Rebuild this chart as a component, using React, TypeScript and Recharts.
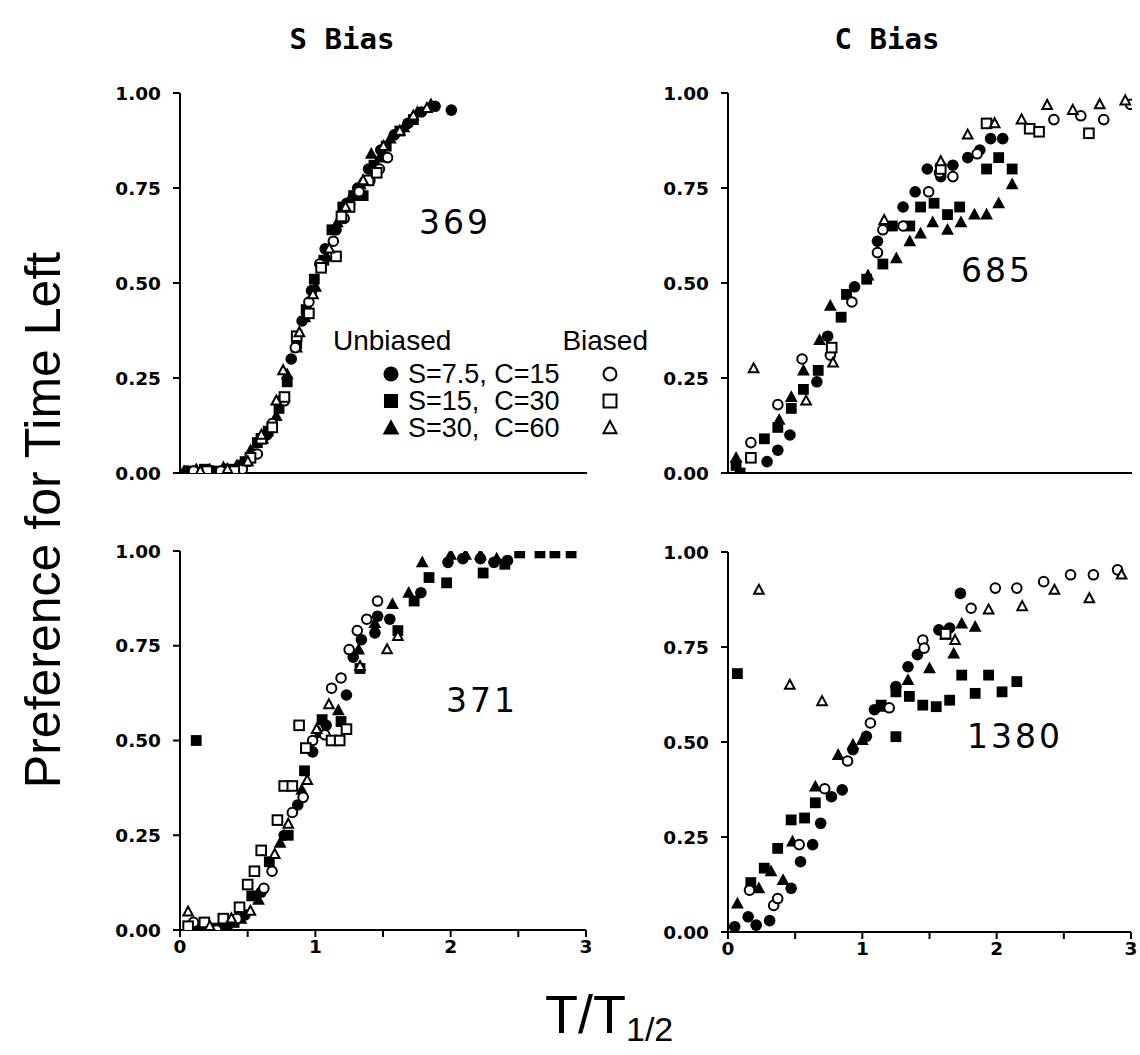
import React from 'react';
import { ScatterChart, Scatter, XAxis, YAxis } from 'recharts';

type Pt = [number, number];

// ---- Panel 369 (S Bias, top) ----
const p369_S7_unbiased: Pt[] = [[0.05,0.005],[0.14,0.0],[0.24,0.005],[0.34,0.01],[0.44,0.02],[0.54,0.05],[0.64,0.1],[0.74,0.19],[0.82,0.3],[0.9,0.4],[0.97,0.48],[1.07,0.59],[1.15,0.64],[1.23,0.71],[1.31,0.75],[1.39,0.8],[1.48,0.85],[1.58,0.89],[1.68,0.92],[1.78,0.95],[1.88,0.965],[2.0,0.955]];
const p369_S15_unbiased: Pt[] = [[0.08,0.005],[0.18,0.01],[0.28,0.005],[0.38,0.01],[0.48,0.03],[0.57,0.08],[0.65,0.11],[0.73,0.17],[0.79,0.24],[0.86,0.34],[0.93,0.43],[0.99,0.51],[1.06,0.56],[1.12,0.64],[1.2,0.7],[1.28,0.73],[1.35,0.73],[1.43,0.81],[1.52,0.86],[1.62,0.9],[1.72,0.93]];
const p369_S30_unbiased: Pt[] = [[0.03,0.005],[0.12,0.01],[0.22,0.01],[0.32,0.015],[0.42,0.02],[0.52,0.06],[0.61,0.09],[0.71,0.15],[0.79,0.26],[0.86,0.33],[0.92,0.41],[1.0,0.49],[1.08,0.57],[1.16,0.66],[1.25,0.72],[1.33,0.76],[1.41,0.84],[1.47,0.83],[1.55,0.88],[1.65,0.91],[1.75,0.95],[1.85,0.97]];
const p369_S7_biased: Pt[] = [[0.1,0.005],[0.3,0.005],[0.46,0.01],[0.57,0.05],[0.68,0.13],[0.77,0.19],[0.85,0.33],[0.95,0.45],[1.03,0.55],[1.13,0.61],[1.21,0.67],[1.32,0.74],[1.4,0.77],[1.47,0.8],[1.53,0.83]];
const p369_S15_biased: Pt[] = [[0.2,0.005],[0.4,0.005],[0.52,0.04],[0.6,0.09],[0.68,0.12],[0.77,0.2],[0.86,0.36],[0.95,0.42],[1.04,0.54],[1.15,0.57],[1.19,0.675],[1.25,0.7],[1.39,0.77],[1.45,0.79]];
const p369_S30_biased: Pt[] = [[0.15,0.005],[0.35,0.01],[0.5,0.03],[0.6,0.1],[0.71,0.19],[0.76,0.27],[0.88,0.37],[0.98,0.47],[1.1,0.59],[1.22,0.7],[1.35,0.77],[1.5,0.86],[1.62,0.9],[1.72,0.94],[1.82,0.96]];

// ---- Panel 685 (C Bias, top) ----
const p685_S7_unbiased: Pt[] = [[0.29,0.03],[0.37,0.06],[0.46,0.1],[0.66,0.24],[0.74,0.36],[0.94,0.49],[1.11,0.61],[1.3,0.7],[1.39,0.74],[1.48,0.8],[1.58,0.78],[1.67,0.81],[1.78,0.83],[1.87,0.85],[1.95,0.88],[2.04,0.88]];
const p685_S15_unbiased: Pt[] = [[0.09,0.0],[0.06,0.02],[0.27,0.09],[0.37,0.12],[0.47,0.17],[0.56,0.22],[0.67,0.27],[0.84,0.41],[0.88,0.47],[1.03,0.51],[1.15,0.55],[1.22,0.65],[1.35,0.65],[1.43,0.7],[1.53,0.71],[1.63,0.68],[1.72,0.7],[1.92,0.8],[2.01,0.83],[2.11,0.8]];
const p685_S30_unbiased: Pt[] = [[0.06,0.04],[0.38,0.14],[0.47,0.2],[0.56,0.27],[0.68,0.35],[0.76,0.44],[1.04,0.52],[1.25,0.565],[1.35,0.61],[1.43,0.63],[1.52,0.66],[1.63,0.64],[1.73,0.66],[1.83,0.68],[1.92,0.68],[2.01,0.71],[2.11,0.76]];
const p685_S7_biased: Pt[] = [[0.17,0.08],[0.37,0.18],[0.55,0.3],[0.76,0.31],[0.92,0.45],[1.11,0.58],[1.15,0.64],[1.3,0.65],[1.49,0.74],[1.57,0.79],[1.67,0.78],[1.85,0.84],[2.42,0.93],[2.62,0.94],[2.79,0.93],[2.99,0.97]];
const p685_S15_biased: Pt[] = [[0.17,0.04],[0.77,0.33],[1.58,0.8],[1.92,0.92],[2.24,0.906],[2.31,0.898],[2.68,0.894]];
const p685_S30_biased: Pt[] = [[0.19,0.275],[0.58,0.19],[0.78,0.29],[1.16,0.665],[1.58,0.82],[1.78,0.89],[1.98,0.92],[2.18,0.93],[2.37,0.968],[2.56,0.955],[2.76,0.97],[2.95,0.98]];

// ---- Panel 371 (S Bias, bottom) ----
const p371_S7_unbiased: Pt[] = [[0.08,0.005],[0.2,0.0],[0.35,0.01],[0.48,0.04],[0.6,0.1],[0.77,0.25],[0.87,0.33],[0.98,0.47],[1.08,0.54],[1.23,0.62],[1.28,0.72],[1.34,0.766],[1.44,0.784],[1.46,0.828],[1.55,0.82],[1.78,0.89],[1.98,0.97],[2.09,0.98],[2.22,0.98],[2.32,0.97],[2.42,0.975]];
const p371_S15_unbiased: Pt[] = [[0.12,0.5],[0.1,0.0],[0.25,0.005],[0.4,0.02],[0.53,0.09],[0.66,0.18],[0.8,0.25],[0.92,0.42],[1.05,0.555],[1.19,0.55],[1.33,0.69],[1.61,0.79],[1.73,0.868],[1.84,0.93],[1.97,0.916],[2.24,0.942],[2.4,0.965],[2.51,0.995],[2.66,0.995],[2.77,0.995],[2.89,0.995]];
const p371_S30_unbiased: Pt[] = [[0.15,0.01],[0.3,0.005],[0.45,0.03],[0.58,0.08],[0.74,0.23],[0.9,0.37],[1.03,0.52],[1.17,0.58],[1.32,0.74],[1.44,0.81],[1.57,0.86],[1.69,0.89],[1.79,0.97],[2.0,0.99],[2.11,0.99],[2.22,0.99],[2.34,0.98]];
const p371_S7_biased: Pt[] = [[0.1,0.02],[0.27,0.0],[0.42,0.03],[0.62,0.11],[0.68,0.155],[0.83,0.31],[0.91,0.35],[0.98,0.5],[1.07,0.515],[1.12,0.638],[1.19,0.665],[1.25,0.74],[1.31,0.79],[1.38,0.82],[1.46,0.868]];
const p371_S15_biased: Pt[] = [[0.06,0.01],[0.18,0.02],[0.32,0.03],[0.44,0.06],[0.5,0.12],[0.55,0.155],[0.6,0.21],[0.72,0.29],[0.77,0.38],[0.83,0.38],[0.88,0.54],[0.93,0.48],[1.12,0.5],[1.18,0.5],[1.23,0.53]];
const p371_S30_biased: Pt[] = [[0.06,0.048],[0.22,0.01],[0.38,0.03],[0.52,0.05],[0.7,0.2],[0.8,0.28],[0.94,0.395],[1.01,0.53],[1.1,0.595],[1.33,0.696],[1.53,0.74],[1.61,0.775]];

// ---- Panel 1380 (C Bias, bottom) ----
const p1380_S7_unbiased: Pt[] = [[0.05,0.014],[0.15,0.04],[0.21,0.018],[0.31,0.03],[0.47,0.115],[0.54,0.185],[0.63,0.23],[0.69,0.286],[0.77,0.356],[0.85,0.374],[0.93,0.48],[1.03,0.515],[1.09,0.585],[1.25,0.646],[1.34,0.698],[1.41,0.73],[1.57,0.795],[1.65,0.8],[1.73,0.891]];
const p1380_S15_unbiased: Pt[] = [[0.07,0.68],[0.17,0.13],[0.27,0.168],[0.37,0.22],[0.47,0.295],[0.57,0.3],[0.65,0.34],[1.14,0.597],[1.25,0.632],[1.25,0.514],[1.35,0.62],[1.45,0.597],[1.55,0.593],[1.65,0.61],[1.74,0.676],[1.84,0.628],[1.94,0.676],[2.04,0.632],[2.15,0.659]];
const p1380_S30_unbiased: Pt[] = [[0.07,0.075],[0.23,0.115],[0.32,0.16],[0.41,0.137],[0.48,0.238],[0.65,0.383],[0.82,0.466],[0.93,0.493],[1.0,0.505],[1.16,0.593],[1.34,0.663],[1.5,0.694],[1.62,0.782],[1.68,0.733],[1.74,0.812],[1.84,0.803]];
const p1380_S7_biased: Pt[] = [[0.16,0.11],[0.34,0.07],[0.37,0.088],[0.53,0.23],[0.72,0.377],[0.89,0.45],[1.06,0.55],[1.2,0.59],[1.45,0.768],[1.46,0.747],[1.81,0.852],[1.99,0.905],[2.15,0.905],[2.35,0.922],[2.55,0.94],[2.72,0.94],[2.9,0.953]];
const p1380_S15_biased: Pt[] = [[1.62,0.785]];
const p1380_S30_biased: Pt[] = [[0.23,0.9],[0.46,0.65],[0.7,0.607],[1.69,0.768],[1.94,0.848],[2.19,0.857],[2.43,0.9],[2.69,0.878],[2.93,0.94]];

const xTicks = [0, 0.5, 1, 1.5, 2, 2.5, 3];
const yTicks = [0, 0.25, 0.5, 0.75, 1];
const columnTitles = ['S Bias', 'C Bias'];
const legendRows = ['S=7.5, C=15', 'S=15,  C=30', 'S=30,  C=60'];

type Kind = 'circle' | 'square' | 'triangle';

const drawMarker = (kind: Kind, filled: boolean, cx: number, cy: number, scale = 1) => {
  const fill = filled ? '#000' : '#fff';
  const sw = filled ? 0 : 2;
  if (kind === 'circle') {
    const r = (filled ? 5.8 : 4.8) * scale;
    return <circle cx={cx} cy={cy} r={r} fill={fill} stroke="#000" strokeWidth={sw} />;
  }
  if (kind === 'square') {
    const h = (filled ? 5.4 : 4.8) * scale;
    return <rect x={cx - h} y={cy - h} width={2 * h} height={2 * h} fill={fill} stroke="#000" strokeWidth={sw} />;
  }
  const w = (filled ? 6.4 : 4.8) * scale;
  const up = (filled ? 6.8 : 5.2) * scale;
  const dn = (filled ? 5 : 3.8) * scale;
  return (
    <polygon
      points={`${cx},${cy - up} ${cx + w},${cy + dn} ${cx - w},${cy + dn}`}
      fill={fill}
      stroke="#000"
      strokeWidth={sw}
      strokeLinejoin="miter"
    />
  );
};

const makeShape = (kind: Kind, filled: boolean) => (props: any) => {
  const { cx, cy } = props;
  if (cx == null || cy == null) return <g />;
  return drawMarker(kind, filled, cx, cy);
};

const toObj = (arr: Pt[]) => arr.map(([x, y]) => ({ x, y }));

interface SeriesDef { data: Pt[]; kind: Kind; filled: boolean; }

const YW = 70;
const MT = 10;
const MR = 15;
const XH = 40;

const tickStyle = { fill: '#000', fontSize: 18.5, fontWeight: 700, fontFamily: '"DejaVu Sans", sans-serif' };

const Panel = ({ left, top, w, h, series, showX }: { left: number; top: number; w: number; h: number; series: SeriesDef[]; showX: boolean }) => {
  const open = series.filter((s) => !s.filled);
  const fill = series.filter((s) => s.filled);
  const ordered = [...fill, ...open];
  return (
    <div style={{ position: 'absolute', left: left - YW, top: top - MT }}>
      <ScatterChart width={w + YW + MR} height={h + MT + XH} margin={{ top: MT, right: MR, left: 0, bottom: 0 }}>
        <XAxis
          type="number"
          dataKey="x"
          domain={[0, 3]}
          ticks={xTicks}
          interval={0}
          allowDataOverflow
          height={XH}
          axisLine={{ stroke: '#000', strokeWidth: 2 }}
          tickLine={{ stroke: '#000', strokeWidth: 2 }}
          tickSize={7}
          tickMargin={3}
          tick={showX ? tickStyle : false}
          tickFormatter={(v: number) => (Number.isInteger(v) ? String(v) : '')}
        />
        <YAxis
          type="number"
          dataKey="y"
          domain={[0, 1]}
          ticks={yTicks}
          interval={0}
          allowDataOverflow
          width={YW}
          axisLine={{ stroke: '#000', strokeWidth: 2 }}
          tickLine={{ stroke: '#000', strokeWidth: 2 }}
          tickSize={7}
          tickMargin={12}
          tick={tickStyle}
          tickFormatter={(v: number) => v.toFixed(2)}
        />
        {ordered.map((s, i) => (
          <Scatter key={i} data={toObj(s.data)} shape={makeShape(s.kind, s.filled)} isAnimationActive={false} />
        ))}
      </ScatterChart>
    </div>
  );
};

const setOf = (a: Pt[], b: Pt[], c: Pt[], d: Pt[], e: Pt[], f: Pt[]): SeriesDef[] => [
  { data: a, kind: 'circle', filled: true },
  { data: b, kind: 'square', filled: true },
  { data: c, kind: 'triangle', filled: true },
  { data: d, kind: 'circle', filled: false },
  { data: e, kind: 'square', filled: false },
  { data: f, kind: 'triangle', filled: false },
];

const numStyle: React.CSSProperties = {
  position: 'absolute',
  fontFamily: '"DejaVu Sans", sans-serif',
  fontSize: 33,
  letterSpacing: 3,
  lineHeight: '34px',
  color: '#000',
};

const titleStyle: React.CSSProperties = {
  position: 'absolute',
  top: 21,
  width: 160,
  textAlign: 'center',
  fontFamily: '"DejaVu Sans Mono", monospace',
  fontWeight: 700,
  fontSize: 29,
  lineHeight: '36px',
};

const Legend = () => {
  const kinds: Kind[] = ['circle', 'square', 'triangle'];
  const rowY = [374, 401, 428];
  const font = '"Liberation Sans", Arial, sans-serif';
  return (
    <svg style={{ position: 'absolute', left: 0, top: 0 }} width={1140} height={1055}>
      <text x={333} y={350} fontFamily={font} fontSize={28} fill="#000">Unbiased</text>
      <text x={648} y={350} fontFamily={font} fontSize={28} fill="#000" textAnchor="end">Biased</text>
      {kinds.map((k, i) => (
        <g key={k}>
          {drawMarker(k, true, 391, rowY[i], 1.3)}
          <text x={408} y={rowY[i] + 9} fontFamily={font} fontSize={27} fill="#000" style={{ whiteSpace: 'pre' }}>{legendRows[i]}</text>
          {drawMarker(k, false, 610, rowY[i], 1.35)}
        </g>
      ))}
    </svg>
  );
};

export default function App() {
  return (
    <div style={{ position: 'absolute', left: 0, top: 0, width: 1140, height: 1055, background: '#fff' }}>
      <div style={{ ...titleStyle, left: 262 }}>{columnTitles[0]}</div>
      <div style={{ ...titleStyle, left: 807 }}>{columnTitles[1]}</div>

      <Panel left={180} top={93} w={407} h={380} showX={false}
        series={setOf(p369_S7_unbiased, p369_S15_unbiased, p369_S30_unbiased, p369_S7_biased, p369_S15_biased, p369_S30_biased)} />
      <Panel left={728} top={93} w={404} h={380} showX={false}
        series={setOf(p685_S7_unbiased, p685_S15_unbiased, p685_S30_unbiased, p685_S7_biased, p685_S15_biased, p685_S30_biased)} />
      <Panel left={180} top={551} w={406} h={379} showX={true}
        series={setOf(p371_S7_unbiased, p371_S15_unbiased, p371_S30_unbiased, p371_S7_biased, p371_S15_biased, p371_S30_biased)} />
      <Panel left={728} top={552} w={403} h={380} showX={true}
        series={setOf(p1380_S7_unbiased, p1380_S15_unbiased, p1380_S30_unbiased, p1380_S7_biased, p1380_S15_biased, p1380_S30_biased)} />

      <div style={{ ...numStyle, left: 419, top: 206 }}>369</div>
      <div style={{ ...numStyle, left: 961, top: 254 }}>685</div>
      <div style={{ ...numStyle, left: 446, top: 684 }}>371</div>
      <div style={{ ...numStyle, left: 967, top: 720 }}>1380</div>

      <Legend />

      <svg style={{ position: 'absolute', left: 0, top: 0, pointerEvents: 'none' }} width={1140} height={1055}>
        <text
          transform="translate(60,520) rotate(-90)"
          textAnchor="middle"
          fontFamily='"Liberation Sans", Arial, sans-serif'
          fontSize={50}
          fill="#000"
        >
          Preference for Time Left
        </text>
        <text x={545} y={1033} fontFamily='"Liberation Sans", Arial, sans-serif' fontSize={54} fill="#000">
          T/T
          <tspan fontSize={34} dy={8}>1/2</tspan>
        </text>
      </svg>
    </div>
  );
}
